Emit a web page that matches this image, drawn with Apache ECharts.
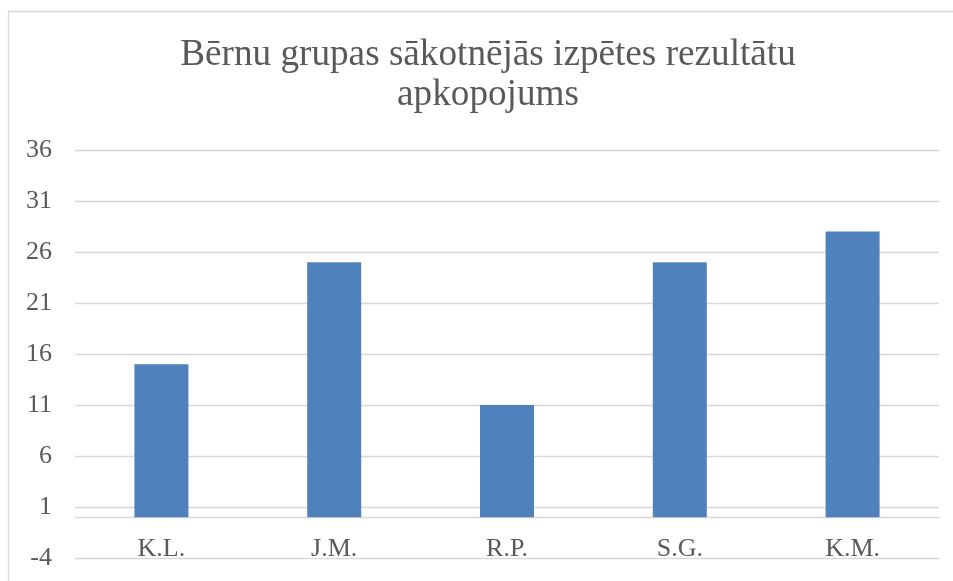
<!DOCTYPE html>
<html>
<head>
<meta charset="utf-8">
<title>Bērnu grupas sākotnējās izpētes rezultātu apkopojums</title>
<script src="https://cdn.jsdelivr.net/npm/echarts@6/dist/echarts.min.js"></script>
<style>
  html, body { margin: 0; padding: 0; background: #fff; }
  #chart { width: 953px; height: 581px; }
</style>
</head>
<body>
<div id="chart"></div>
<script>
// dati
const titleText = 'Bērnu grupas sākotnējās izpētes rezultātu\napkopojums';
const categories = ['K.L.', 'J.M.', 'R.P.', 'S.G.', 'K.M.'];
const values = [15, 25, 11, 25, 28];
const yMin = -4;
const yMax = 36;
const yStep = 5;

const serif = "'Liberation Serif', 'Times New Roman', serif";
const textColor = '#595959';
const lineColor = '#D9D9D9';

const chart = echarts.init(document.getElementById('chart'), null, { renderer: 'canvas' });

chart.setOption({
    animation: false,
    backgroundColor: '#fff',
    title: {
        text: titleText,
        left: 488,
        top: 35,
        padding: 0,
        textAlign: 'center',
        textStyle: {
            fontFamily: serif,
            fontSize: 37.2,
            fontWeight: 'normal',
            color: textColor,
            lineHeight: 40
        }
    },
    // ramis ap diagrammu
    graphic: [{
        type: 'rect',
        shape: { x: 8.5, y: 11.5, width: 1000, height: 1000 },
        style: { fill: 'none', stroke: lineColor, lineWidth: 1.3 },
        silent: true
    }],
    grid: {
        left: 75,
        right: 14,
        top: 150,
        bottom: 23,
        containLabel: false,
        outerBoundsMode: 'none'
    },
    xAxis: {
        type: 'category',
        data: categories,
        axisLine: { onZero: true, lineStyle: { color: lineColor, width: 1.3 } },
        axisTick: { show: false },
        axisLabel: {
            margin: -22,
            fontFamily: serif,
            fontSize: 26,
            color: textColor
        },
        splitLine: { show: false }
    },
    yAxis: {
        type: 'value',
        min: yMin,
        max: yMax,
        interval: yStep,
        axisLine: { show: false },
        axisTick: { show: false },
        axisLabel: {
            margin: 23,
            fontFamily: serif,
            fontSize: 26,
            color: textColor
        },
        splitLine: { lineStyle: { color: lineColor, width: 1.3 } }
    },
    series: [{
        type: 'bar',
        data: values,
        barWidth: 54,
        itemStyle: { color: '#4F81BD' }
    }]
});
</script>
</body>
</html>
